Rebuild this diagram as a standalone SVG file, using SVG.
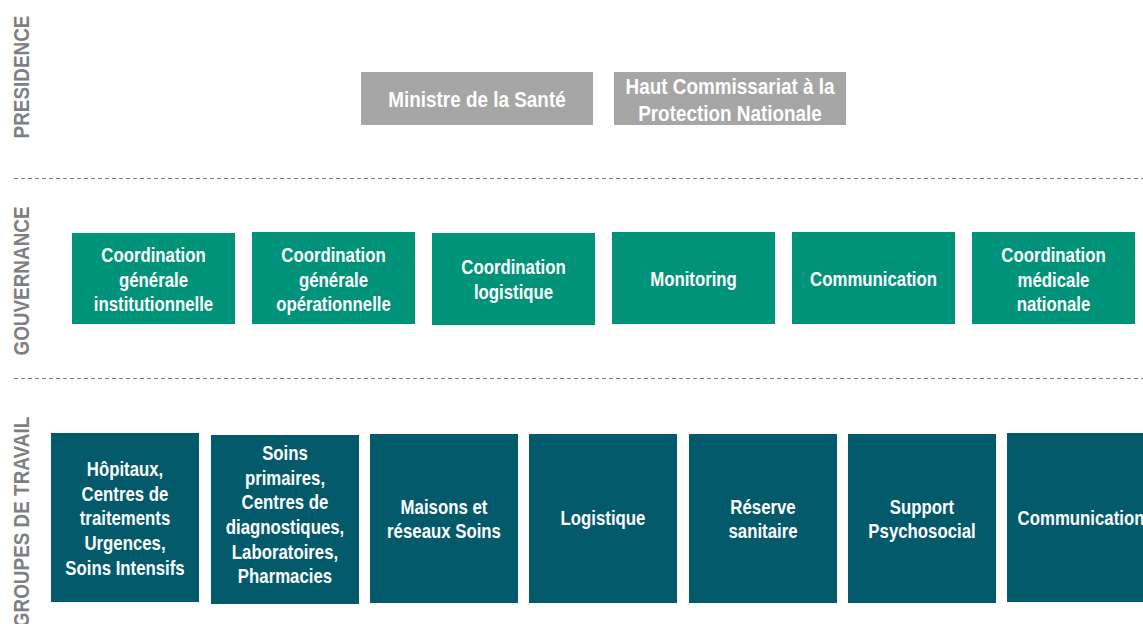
<svg xmlns="http://www.w3.org/2000/svg" width="1143" height="624" viewBox="0 0 1143 624">
<style>
text{font-family:"Liberation Sans",Arial,sans-serif;font-weight:bold;text-anchor:middle}
.t{font-size:20px;fill:#fff}
.tp{font-size:22.5px;fill:#fff}
.lab{font-size:22px;fill:#7f7f7f}
.p{fill:#a6a6a6}.g{fill:#00937a}.d{fill:#025a6b}
.sep{stroke:#7f7f7f;stroke-width:1;stroke-dasharray:4 3;fill:none}
</style>
<rect width="1143" height="624" fill="#fff"/>
<g id="labels">
<text class="lab" transform="translate(29,77) rotate(-90) scale(0.86,1)">PRESIDENCE</text>
<text class="lab" transform="translate(29,281) rotate(-90) scale(0.86,1)">GOUVERNANCE</text>
<text class="lab" transform="translate(29,522) rotate(-90) scale(0.86,1)">GROUPES DE TRAVAIL</text>
</g>
<g id="connectors">
<line class="sep" x1="14" y1="178.5" x2="1143" y2="178.5"/>
<line class="sep" x1="14" y1="378.5" x2="1143" y2="378.5"/>
</g>
<g id="ministre"><rect class="p" x="361" y="72" width="232" height="53"/><text class="tp" transform="translate(477,107) scale(0.84,1)">Ministre de la Santé</text></g>
<g id="haut"><rect class="p" x="614" y="72" width="232" height="53"/><text class="tp" transform="translate(730,94) scale(0.84,1)">Haut Commissariat à la</text><text class="tp" transform="translate(730,121) scale(0.84,1)">Protection Nationale</text></g>
<g id="g1"><rect class="g" x="72" y="233" width="163" height="91"/><text class="t" transform="translate(153.5,262) scale(0.84,1)">Coordination</text><text class="t" transform="translate(153.5,287) scale(0.84,1)">générale</text><text class="t" transform="translate(153.5,311) scale(0.84,1)">institutionnelle</text></g>
<g id="g2"><rect class="g" x="252" y="232" width="163" height="92"/><text class="t" transform="translate(333.5,262) scale(0.84,1)">Coordination</text><text class="t" transform="translate(333.5,287) scale(0.84,1)">générale</text><text class="t" transform="translate(333.5,311) scale(0.84,1)">opérationnelle</text></g>
<g id="g3"><rect class="g" x="432" y="233" width="163" height="92"/><text class="t" transform="translate(513.5,274) scale(0.84,1)">Coordination</text><text class="t" transform="translate(513.5,299) scale(0.84,1)">logistique</text></g>
<g id="g4"><rect class="g" x="612" y="232" width="163" height="92"/><text class="t" transform="translate(693.5,286) scale(0.84,1)">Monitoring</text></g>
<g id="g5"><rect class="g" x="792" y="232" width="163" height="92"/><text class="t" transform="translate(873.5,286) scale(0.84,1)">Communication</text></g>
<g id="g6"><rect class="g" x="972" y="232" width="163" height="92"/><text class="t" transform="translate(1053.5,262) scale(0.84,1)">Coordination</text><text class="t" transform="translate(1053.5,287) scale(0.84,1)">médicale</text><text class="t" transform="translate(1053.5,311) scale(0.84,1)">nationale</text></g>
<g id="w1"><rect class="d" x="51" y="433" width="148" height="169"/><text class="t" transform="translate(125,476) scale(0.84,1)">Hôpitaux,</text><text class="t" transform="translate(125,501) scale(0.84,1)">Centres de</text><text class="t" transform="translate(125,525) scale(0.84,1)">traitements</text><text class="t" transform="translate(125,550) scale(0.84,1)">Urgences,</text><text class="t" transform="translate(125,575) scale(0.84,1)">Soins Intensifs</text></g>
<g id="w2"><rect class="d" x="211" y="435" width="148" height="169"/><text class="t" transform="translate(285,460) scale(0.84,1)">Soins</text><text class="t" transform="translate(285,485) scale(0.84,1)">primaires,</text><text class="t" transform="translate(285,509) scale(0.84,1)">Centres de</text><text class="t" transform="translate(285,534) scale(0.84,1)">diagnostiques,</text><text class="t" transform="translate(285,559) scale(0.84,1)">Laboratoires,</text><text class="t" transform="translate(285,583) scale(0.84,1)">Pharmacies</text></g>
<g id="w3"><rect class="d" x="370" y="434" width="148" height="169"/><text class="t" transform="translate(444,514) scale(0.84,1)">Maisons et</text><text class="t" transform="translate(444,538) scale(0.84,1)">réseaux Soins</text></g>
<g id="w4"><rect class="d" x="529" y="434" width="148" height="169"/><text class="t" transform="translate(603,525) scale(0.84,1)">Logistique</text></g>
<g id="w5"><rect class="d" x="689" y="434" width="148" height="169"/><text class="t" transform="translate(763,514) scale(0.84,1)">Réserve</text><text class="t" transform="translate(763,538) scale(0.84,1)">sanitaire</text></g>
<g id="w6"><rect class="d" x="848" y="434" width="148" height="169"/><text class="t" transform="translate(922,514) scale(0.84,1)">Support</text><text class="t" transform="translate(922,538) scale(0.84,1)">Psychosocial</text></g>
<g id="w7"><rect class="d" x="1007" y="433" width="148" height="169"/><text class="t" transform="translate(1081,525) scale(0.84,1)">Communication</text></g>
</svg>
